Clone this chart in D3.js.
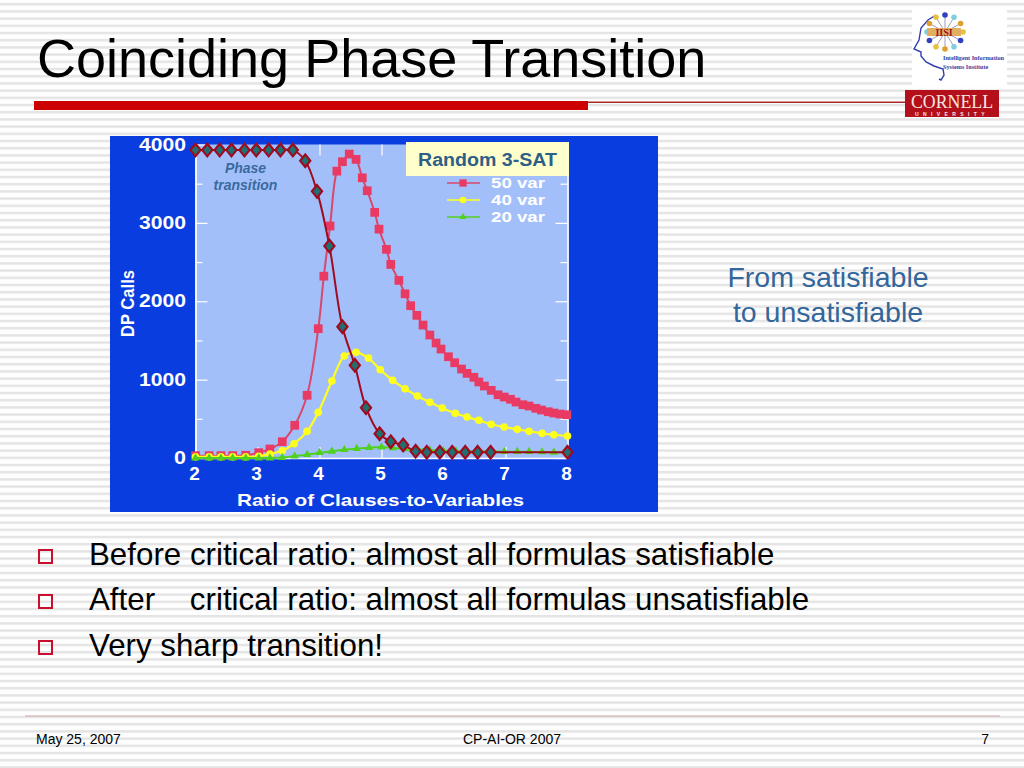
<!DOCTYPE html>
<html><head><meta charset="utf-8">
<script src="https://cdn.jsdelivr.net/npm/d3@7"></script>
<style>html,body{margin:0;padding:0;background:#fff;overflow:hidden}svg{display:block}
text{font-family:"Liberation Sans",Arial,sans-serif}</style></head><body>
<svg id="s" width="1024" height="768"></svg>
<script>
const title = "Coinciding Phase Transition";
const bullets = ["Before critical ratio: almost all formulas satisfiable","After\u00a0\u00a0\u00a0\u00a0critical ratio: almost all formulas unsatisfiable","Very sharp transition!"];
const sideNote = ["From satisfiable","to unsatisfiable"];
const footer = ["May 25, 2007","CP-AI-OR 2007","7"];
const xTicks = [2,3,4,5,6,7,8];
const yTicks = [0,1000,2000,3000,4000];
const yMinorTicks = [500,1500,2500,3500];
const legendLabels = ["50 var","40 var","20 var"];

const x50 = [2,2.22,2.41,2.6,2.81,3.02,3.2,3.4,3.6,3.8,3.98,4.07,4.17,4.28,4.37,4.48,4.59,4.69,4.77,4.89,4.96,5.08,5.15,5.28,5.38,5.47,5.57,5.67,5.78,5.88,5.96,6.08,6.18,6.29,6.38,6.49,6.57,6.66,6.77,6.88,6.98,7.08,7.17,7.28,7.38,7.49,7.58,7.69,7.78,7.88,7.99];
const y50 = [30,30,30,30,35,68,115,208,417,800,1650,2320,2960,3660,3780,3878,3810,3575,3410,3134,2920,2662,2470,2266,2095,1943,1820,1696,1569,1467,1390,1292,1215,1135,1080,1030,970,918,863,807,778,749,714,680,663,634,612,590,574,561,552];
const x40 = [2,2.22,2.41,2.6,2.81,3.02,3.2,3.4,3.59,3.8,3.98,4.2,4.4,4.59,4.79,4.98,5.18,5.38,5.58,5.78,5.98,6.19,6.38,6.57,6.77,6.98,7.19,7.38,7.59,7.78,8];
const y40 = [15,15,15,15,15,22,51,93,182,340,583,982,1301,1348,1275,1126,991,884,791,710,638,570,523,481,430,395,366,340,315,297,281];
const x20 = [2,2.22,2.41,2.6,2.81,3.02,3.2,3.4,3.6,3.8,4,4.2,4.4,4.6,4.8,5,5.18,5.38,5.58,5.78,6,6.2,6.38,6.57,6.77,6.98,7.19,7.38,7.59,7.78,8];
const y20 = [0,0,0,0,0,0,0,5,25,43,68,85,106,119,132,140,128,118,111,102,93,89,85,85,85,81,81,81,77,72,72];
const xSat = [2,2.19,2.39,2.58,2.79,2.98,3.18,3.37,3.57,3.77,3.96,4.16,4.37,4.57,4.75,4.97,5.15,5.35,5.55,5.73,5.94,6.14,6.35,6.55,6.76,8];
const ySat = [3929,3929,3929,3929,3929,3929,3929,3929,3929,3793,3402,2704,1675,1182,642,310,208,166,85,73,73,73,73,73,73,73];

const svg = d3.select("#s");
const defs = svg.append("defs");
const pat = defs.append("pattern").attr("id","st").attr("patternUnits","userSpaceOnUse").attr("width",8).attr("height",7.2).attr("y",3);
pat.append("rect").attr("width",8).attr("height",7.2).attr("fill","#fefefe");
pat.append("rect").attr("width",8).attr("height",2.4).attr("fill","#e4e4e4");
svg.append("rect").attr("width",1024).attr("height",768).attr("fill","url(#st)");

// title and rule
svg.append("text").attr("x",37).attr("y",77).attr("font-size",54).attr("fill","#000").text(title);
svg.append("rect").attr("x",34).attr("y",101).attr("width",554).attr("height",9).attr("fill","#cc0000");
svg.append("rect").attr("x",588).attr("y",101.5).attr("width",318).attr("height",1.5).attr("fill","#a52a2a");

// logos
const logo = svg.append("g");
logo.append("rect").attr("x",912).attr("y",10).attr("width",95).attr("height",75).attr("fill","#fff");
logo.append("path").attr("d","M939,79 L941,80 L944,75 L943,69 L934,66 L926,62 L921,56 L921,52 L914,49 L919,40 L921,28 L928,20 L936,15")
  .attr("fill","none").attr("stroke","#2f3fb0").attr("stroke-width",1.4);
const ringAngles = d3.range(0,360,30);
const ringColors = ["#e8c040","#3040c0","#80d0e0","#e0a030"];
const ringC = {x:945,y:32};
logo.selectAll("line.sp").data(ringAngles).join("line").attr("x1",ringC.x).attr("y1",ringC.y)
  .attr("x2",d=>ringC.x+18*Math.cos(d*Math.PI/180)).attr("y2",d=>ringC.y+17*Math.sin(d*Math.PI/180)).attr("stroke","#a0a0b8").attr("stroke-width",1);
logo.selectAll("circle").data(ringAngles).join("circle").attr("cx",d=>ringC.x+18*Math.cos(d*Math.PI/180)).attr("cy",d=>ringC.y+17*Math.sin(d*Math.PI/180)).attr("r",2.8)
  .attr("fill",(d,i)=>ringColors[i%4]);
logo.append("rect").attr("x",927).attr("y",28).attr("width",34).attr("height",8).attr("fill","#e0b060");
logo.append("text").attr("x",944).attr("y",36).attr("text-anchor","middle").attr("font-size",10).attr("font-weight","bold").attr("fill","#a01020").attr("style","font-family:'Liberation Serif'").text("IISI");
logo.append("text").attr("x",943).attr("y",60).attr("font-size",6.2).attr("font-weight","bold").attr("fill","#3040a0").attr("style","font-family:'Liberation Serif'").text("Intelligent Information");
logo.append("text").attr("x",943).attr("y",69).attr("font-size",6.2).attr("font-weight","bold").attr("fill","#3040a0").attr("style","font-family:'Liberation Serif'").text("Systems Institute");
logo.append("rect").attr("x",905).attr("y",90).attr("width",94).attr("height",27).attr("fill","#b3101c");
logo.append("text").attr("x",952).attr("y",108).attr("text-anchor","middle").attr("font-size",18).attr("fill","#f6e8e0").attr("style","font-family:'Liberation Serif'").attr("textLength",82).attr("lengthAdjust","spacingAndGlyphs").text("CORNELL");
logo.append("text").attr("x",952).attr("y",115.5).attr("text-anchor","middle").attr("font-size",5).attr("font-weight","bold").attr("fill","#f6e8e0").attr("letter-spacing",4.4).text("UNIVERSITY");

// chart panel
const W = {l:195.5,r:567.5,t:144.5,b:458};
svg.append("rect").attr("x",110).attr("y",136).attr("width",548).attr("height",376).attr("fill","#0a3de0");
svg.append("rect").attr("x",W.l).attr("y",W.t).attr("width",W.r-W.l).attr("height",W.b-W.t).attr("fill","#a3bffa");
const xS = d3.scaleLinear().domain([2,8]).range([W.l,W.r]);
const yS = d3.scaleLinear().domain([0,4000]).range([W.b,W.t]);

function styleAxis(g){ g.selectAll("path").attr("stroke","#fff").attr("stroke-width",1.3); g.selectAll("line").attr("stroke","#fff").attr("stroke-width",1.2); g.selectAll("text").remove(); }
svg.append("g").attr("transform",`translate(${W.l},0)`).call(d3.axisLeft(yS).tickValues(yTicks).tickSize(-12).tickSizeOuter(0).tickFormat("")).call(styleAxis);
svg.append("g").attr("transform",`translate(${W.l},0)`).call(d3.axisLeft(yS).tickValues(yMinorTicks).tickSize(-7).tickSizeOuter(0).tickFormat("")).call(styleAxis);
svg.append("g").attr("transform",`translate(${W.r},0)`).call(d3.axisRight(yS).tickValues(yTicks).tickSize(-12).tickSizeOuter(0).tickFormat("")).call(styleAxis);
svg.append("g").attr("transform",`translate(${W.r},0)`).call(d3.axisRight(yS).tickValues(yMinorTicks).tickSize(-7).tickSizeOuter(0).tickFormat("")).call(styleAxis);
svg.append("g").attr("transform",`translate(0,${W.b})`).call(d3.axisBottom(xS).tickValues(xTicks).tickSize(-11).tickSizeOuter(0).tickFormat("")).call(styleAxis);
const topAxis = svg.append("g").attr("transform",`translate(0,${W.t})`).call(d3.axisTop(xS).tickValues(xTicks).tickSize(-11).tickSizeOuter(0).tickFormat("")).call(styleAxis);
topAxis.select("path").attr("stroke","none");

const bold = sel=>sel.attr("font-weight","bold").attr("fill","#fff");
svg.selectAll("text.yl").data(yTicks).join("text").attr("class","yl").call(bold)
  .attr("x",186).attr("y",d=>yS(d)+6).attr("text-anchor","end").attr("font-size",18.5).attr("textLength",d=>d?47:12).attr("lengthAdjust","spacingAndGlyphs").text(d=>d);
svg.selectAll("text.xl").data(xTicks).join("text").attr("class","xl").call(bold)
  .attr("x",d=>xS(d)-1).attr("y",480).attr("text-anchor","middle").attr("font-size",19).text(d=>d);
svg.append("text").call(bold).attr("x",237).attr("y",505.5).attr("font-size",17).attr("textLength",287).attr("lengthAdjust","spacingAndGlyphs").text("Ratio of Clauses-to-Variables");
svg.append("text").call(bold).attr("transform","translate(134,337) rotate(-90)").attr("font-size",19).attr("textLength",67).attr("lengthAdjust","spacingAndGlyphs").text("DP Calls");

const line = d3.line().x(d=>xS(d[0])).y(d=>yS(d[1])).curve(d3.curveCatmullRom.alpha(0.5));
const series = [
 {x:x50,y:y50,c:"#e83a62",lc:"#d9486a",sym:d3.symbolSquare,size:76,sw:2},
 {x:x40,y:y40,c:"#ffff1e",lc:"#ffff1e",sym:d3.symbolCircle,size:46,sw:2.2},
 {x:x20,y:y20,c:"#50d020",lc:"#50d020",sym:d3.symbolTriangle,size:30,sw:2}
];
series.forEach(s=>{
  const pts = d3.zip(s.x,s.y);
  svg.append("path").attr("d",line(pts)).attr("fill","none").attr("stroke",s.lc).attr("stroke-width",s.sw);
  svg.append("g").selectAll("path").data(pts).join("path").attr("d",d3.symbol().type(s.sym).size(s.size)())
    .attr("transform",d=>`translate(${xS(d[0])},${yS(d[1])})`).attr("fill",s.c);
});
const satPts = d3.zip(xSat,ySat);
svg.append("path").attr("d",line(satPts)).attr("fill","none").attr("stroke","#a00a1e").attr("stroke-width",2);
svg.append("g").selectAll("path").data(satPts).join("path").attr("d",d3.symbol().type(d3.symbolDiamond).size(46)())
  .attr("transform",d=>`translate(${xS(d[0])},${yS(d[1])}) scale(1.4,1)`).attr("fill","#1f7070").attr("stroke","#a00a1e").attr("stroke-width",1.7);

// legend
const legY = [183,200,217];
series.forEach((s,i)=>{
  svg.append("line").attr("x1",447).attr("x2",480).attr("y1",legY[i]).attr("y2",legY[i]).attr("stroke",s.lc).attr("stroke-width",1.6);
  svg.append("path").attr("d",d3.symbol().type(s.sym).size(s.size*0.7)()).attr("transform",`translate(463,${legY[i]})`).attr("fill",s.c);
  svg.append("text").call(bold).attr("x",491).attr("y",legY[i]+5).attr("font-size",15).attr("textLength",54).attr("lengthAdjust","spacingAndGlyphs").text(legendLabels[i]);
});
svg.append("rect").attr("x",406).attr("y",142).attr("width",163).attr("height",34).attr("fill","#ffffcc");
svg.append("text").attr("x",418).attr("y",165.5).attr("font-size",18).attr("font-weight","bold").attr("fill","#2f5f86").attr("textLength",139).attr("lengthAdjust","spacingAndGlyphs").text("Random 3-SAT");
["Phase","transition"].forEach((t,i)=>svg.append("text").attr("x",245.5).attr("y",173+i*17).attr("text-anchor","middle").attr("font-size",14).attr("font-weight","bold").attr("font-style","italic").attr("fill","#3a6a9e").text(t));

// side note
sideNote.forEach((t,i)=>svg.append("text").attr("x",828).attr("y",287+i*34.5).attr("text-anchor","middle").attr("font-size",28.5).attr("fill","#33669a").text(t));

// bullets
const by = [565,610,656];
bullets.forEach((t,i)=>{
  svg.append("rect").attr("x",39).attr("y",by[i]-15).attr("width",13).attr("height",13).attr("fill","none").attr("stroke","#c8102e").attr("stroke-width",2);
  svg.append("text").attr("x",89).attr("y",by[i]).attr("font-size",31.3).attr("fill","#000").text(t);
});

// footer
svg.append("line").attr("x1",25).attr("x2",1000).attr("y1",716).attr("y2",716).attr("stroke","#c8a8a8").attr("stroke-width",1);
svg.append("text").attr("x",36).attr("y",744).attr("font-size",14).text(footer[0]);
svg.append("text").attr("x",512).attr("y",744).attr("text-anchor","middle").attr("font-size",14).text(footer[1]);
svg.append("text").attr("x",989).attr("y",744).attr("text-anchor","end").attr("font-size",14).text(footer[2]);
</script></body></html>
